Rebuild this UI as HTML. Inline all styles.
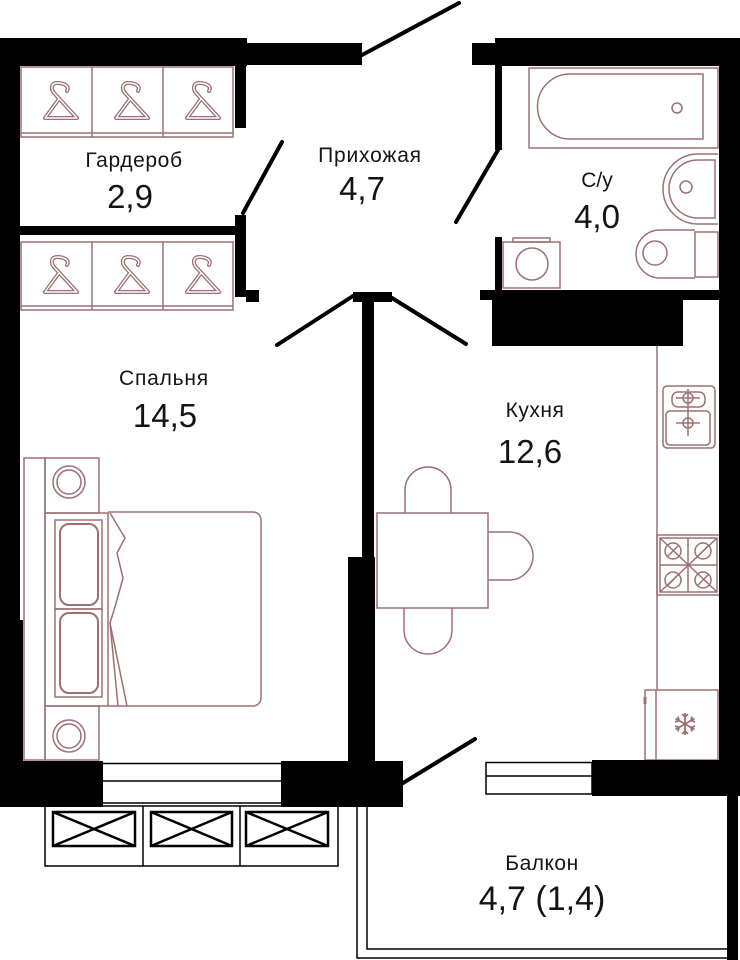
<!DOCTYPE html>
<html><head><meta charset="utf-8"><style>
html,body{margin:0;padding:0;background:#fff;}
svg{display:block;}
text{font-family:"Liberation Sans",sans-serif;fill:#141414;}
</style></head><body>
<svg width="740" height="960" viewBox="0 0 740 960" xmlns="http://www.w3.org/2000/svg">
<defs>
<g id="hanger">
  <path d="M-11,18 L21,18 L-2,-7 C-6,-12 -4,-17 1,-17 C8,-17 14,-14 11,-9 M-11,18 L3,-1" fill="none" stroke="#9c7072" stroke-width="4" stroke-linejoin="round" stroke-linecap="round"/>
  <path d="M-11,18 L21,18 L-2,-7 C-6,-12 -4,-17 1,-17 C8,-17 14,-14 11,-9 M-11,18 L3,-1" fill="none" stroke="#fff" stroke-width="1.4" stroke-linejoin="round" stroke-linecap="round"/>
</g>
<g id="burner">
  <circle r="8" fill="none" stroke="#9c7072" stroke-width="1.5"/>
  <line x1="-6" y1="6" x2="6" y2="-6" stroke="#9c7072" stroke-width="1.5"/>
</g>
</defs>

<!-- furniture (pink) -->
<g fill="none" stroke="#9c7072" stroke-width="1.5">
  <!-- wardrobes -->
  <rect x="21" y="67" width="212" height="70"/>
  <line x1="92" y1="67" x2="92" y2="137"/><line x1="163" y1="67" x2="163" y2="137"/>
  <line x1="21" y1="133" x2="233" y2="133"/>
  <rect x="21" y="242" width="212" height="68"/>
  <line x1="92" y1="242" x2="92" y2="310"/><line x1="163" y1="242" x2="163" y2="310"/>
  <line x1="21" y1="306" x2="233" y2="306"/>

  <!-- bath -->
  <rect x="529" y="68" width="189" height="80"/>
  <path d="M570,74 H703 V139 H570 A32.5,32.5 0 0 1 570,74 Z"/>
  <circle cx="677" cy="108" r="5"/>
  <!-- sink -->
  <path d="M718,154 H698 A35,35 0 0 0 698,224 H718"/>
  <path d="M715,160 H698 A29,29 0 0 0 698,218 H715 Z"/>
  <circle cx="686" cy="187" r="6"/>
  <!-- toilet -->
  <rect x="695" y="232" width="23" height="45"/>
  <path d="M695,230 H660 A24,24 0 0 0 660,278 H695"/>
  <circle cx="655" cy="253" r="12"/>
  <!-- washer -->
  <rect x="503" y="242" width="57" height="46"/>
  <rect x="513" y="238" width="37" height="4"/>
  <circle cx="532" cy="264" r="16"/>

  <!-- kitchen counter -->
  <line x1="657" y1="346" x2="657" y2="690"/>
  <rect x="663" y="386" width="52" height="62" rx="4"/>
  <rect x="672" y="392" width="33" height="15" rx="6"/>
  <rect x="666" y="411" width="44" height="34" rx="4"/>
  <circle cx="688" cy="398" r="5"/><circle cx="688" cy="423" r="5"/>
  <line x1="676" y1="398" x2="700" y2="398"/><line x1="676" y1="423" x2="700" y2="423"/>
  <line x1="688" y1="389" x2="688" y2="436"/>
  <!-- stove -->
  <rect x="657" y="535" width="63" height="60"/>
  <rect x="660" y="538" width="57" height="54"/>
  <line x1="688" y1="538" x2="688" y2="592"/><line x1="660" y1="565" x2="717" y2="565"/>
  <line x1="660" y1="538" x2="717" y2="592"/><line x1="717" y1="538" x2="660" y2="592"/>
  <!-- fridge -->
  <rect x="645" y="690" width="73" height="70"/>
  <line x1="656" y1="690" x2="656" y2="760"/>
  <line x1="645" y1="697" x2="645" y2="704" stroke-width="3"/>
  <g transform="translate(685,724)" stroke-width="1.8">
    <line x1="0" y1="-11" x2="0" y2="11"/>
    <line x1="-9.5" y1="-5.5" x2="9.5" y2="5.5"/>
    <line x1="-9.5" y1="5.5" x2="9.5" y2="-5.5"/>
    <path d="M-3,-10 L0,-7 L3,-10 M-3,10 L0,7 L3,10 M-10,-2 L-6,-3.5 L-7,-7.5 M10,2 L6,3.5 L7,7.5 M-10,2 L-6,3.5 L-7,7.5 M10,-2 L6,-3.5 L7,-7.5"/>
  </g>

  <!-- table -->
  <rect x="377" y="513" width="111" height="95"/>
  <path d="M405,513 V490 A23,23 0 0 1 451,490 V513"/>
  <path d="M404,608 V630 A24,24 0 0 0 452,630 V608"/>
  <path d="M488,532 H509 A24,24 0 0 1 509,580 H488"/>

  <!-- bed -->
  <rect x="24" y="458" width="21" height="302"/>
  <rect x="45" y="458" width="54" height="55"/>
  <circle cx="69" cy="482" r="16"/><circle cx="69" cy="482" r="12"/>
  <rect x="45" y="706" width="54" height="54"/>
  <circle cx="69" cy="736" r="16"/><circle cx="69" cy="736" r="12"/>
  <rect x="45" y="513" width="63" height="193"/>
  <rect x="55" y="520" width="47" height="89"/>
  <rect x="55" y="609" width="47" height="88"/>
  <rect x="60" y="524" width="38" height="81" rx="9" stroke-width="2"/>
  <rect x="60" y="613" width="38" height="80" rx="9" stroke-width="2"/>
  <path d="M108,512 H253 A8,8 0 0 1 261,520 V698 A8,8 0 0 1 253,706 H108"/>
  <polyline points="110,513 125,538 117,553 123,578 115,607 110,623 118,706"/>
  <polyline points="110,623 127,706"/>
</g>

<!-- hangers -->
<use href="#hanger" x="56" y="100"/>
<use href="#hanger" x="127" y="100"/>
<use href="#hanger" x="198" y="100"/>
<use href="#hanger" x="56" y="274"/>
<use href="#hanger" x="127" y="274"/>
<use href="#hanger" x="198" y="274"/>

<!-- burners -->
<use href="#burner" x="673" y="551"/>
<use href="#burner" x="703" y="551"/>
<use href="#burner" x="673" y="580"/>
<use href="#burner" x="703" y="580"/>

<!-- walls -->
<g fill="#000">
  <rect x="0" y="38" width="247" height="28"/>
  <rect x="247" y="43" width="115" height="22"/>
  <rect x="0" y="38" width="20" height="590"/>
  <rect x="0" y="620" width="23" height="141"/>
  <rect x="235" y="66" width="11" height="62"/>
  <rect x="235" y="215" width="11" height="18"/>
  <rect x="20" y="226" width="226" height="9"/>
  <rect x="235" y="226" width="11" height="71"/>
  <rect x="246" y="290" width="13" height="12"/>
  <rect x="0" y="761" width="103" height="46"/>
  <rect x="362" y="292" width="12" height="270"/>
  <rect x="353" y="292" width="39" height="10"/>
  <rect x="348" y="557" width="27" height="206"/>
  <rect x="281" y="761" width="122" height="46"/>
  <rect x="472" y="43" width="23" height="22"/>
  <rect x="495" y="38" width="245" height="28"/>
  <rect x="495" y="66" width="7" height="84"/>
  <rect x="495" y="237" width="7" height="53"/>
  <rect x="480" y="290" width="240" height="10"/>
  <rect x="492" y="300" width="191" height="46"/>
  <rect x="719" y="38" width="21" height="724"/>
  <rect x="592" y="760" width="148" height="36"/>
  <rect x="727" y="796" width="11" height="164"/>
</g>

<!-- windows, balcony, AC -->
<g fill="none" stroke="#000" stroke-width="1.5">
  <line x1="103" y1="763.5" x2="281" y2="763.5"/>
  <line x1="103" y1="781" x2="281" y2="781"/>
  <line x1="103" y1="803" x2="281" y2="803"/>
  <rect x="486" y="762.5" width="106" height="31.5"/>
  <line x1="486" y1="776" x2="592" y2="776"/>
  <path d="M357,807 V958 H738"/>
  <path d="M367,807 V949 H727"/>
  <rect x="45" y="806" width="293" height="60"/>
  <line x1="143" y1="806" x2="143" y2="866"/>
  <line x1="240" y1="806" x2="240" y2="866"/>
  <g stroke-width="2.5">
    <rect x="53" y="812" width="82" height="34"/>
    <line x1="53" y1="812" x2="135" y2="846"/><line x1="53" y1="846" x2="135" y2="812"/>
    <rect x="151" y="812" width="81" height="34"/>
    <line x1="151" y1="812" x2="232" y2="846"/><line x1="151" y1="846" x2="232" y2="812"/>
    <rect x="246" y="812" width="82" height="34"/>
    <line x1="246" y1="812" x2="328" y2="846"/><line x1="246" y1="846" x2="328" y2="812"/>
  </g>
</g>

<!-- doors -->
<g stroke="#000" stroke-width="4" stroke-linecap="round">
  <line x1="362" y1="55" x2="459" y2="3"/>
  <line x1="282" y1="142" x2="243" y2="213"/>
  <line x1="498" y1="150" x2="456" y2="222"/>
  <line x1="353" y1="296" x2="277" y2="345"/>
  <line x1="392" y1="298" x2="466" y2="344"/>
  <line x1="403" y1="783" x2="475" y2="739"/>
</g>

<!-- labels -->
<g text-anchor="middle">
  <text x="134" y="167" font-size="21" letter-spacing="0.6">Гардероб</text>
  <text x="130" y="208" font-size="33">2,9</text>
  <text x="370" y="162" font-size="21" letter-spacing="0.8">Прихожая</text>
  <text x="362" y="200" font-size="33">4,7</text>
  <text x="597" y="187" font-size="21">С/у</text>
  <text x="597" y="228" font-size="33">4,0</text>
  <text x="164" y="385" font-size="21" letter-spacing="0.8">Спальня</text>
  <text x="165" y="427" font-size="33">14,5</text>
  <text x="535" y="417" font-size="21" letter-spacing="0.5">Кухня</text>
  <text x="530" y="463" font-size="33">12,6</text>
  <text x="542" y="870" font-size="21" letter-spacing="0.5">Балкон</text>
  <text x="542" y="910" font-size="34">4,7 (1,4)</text>
</g>
</svg>
</body></html>
